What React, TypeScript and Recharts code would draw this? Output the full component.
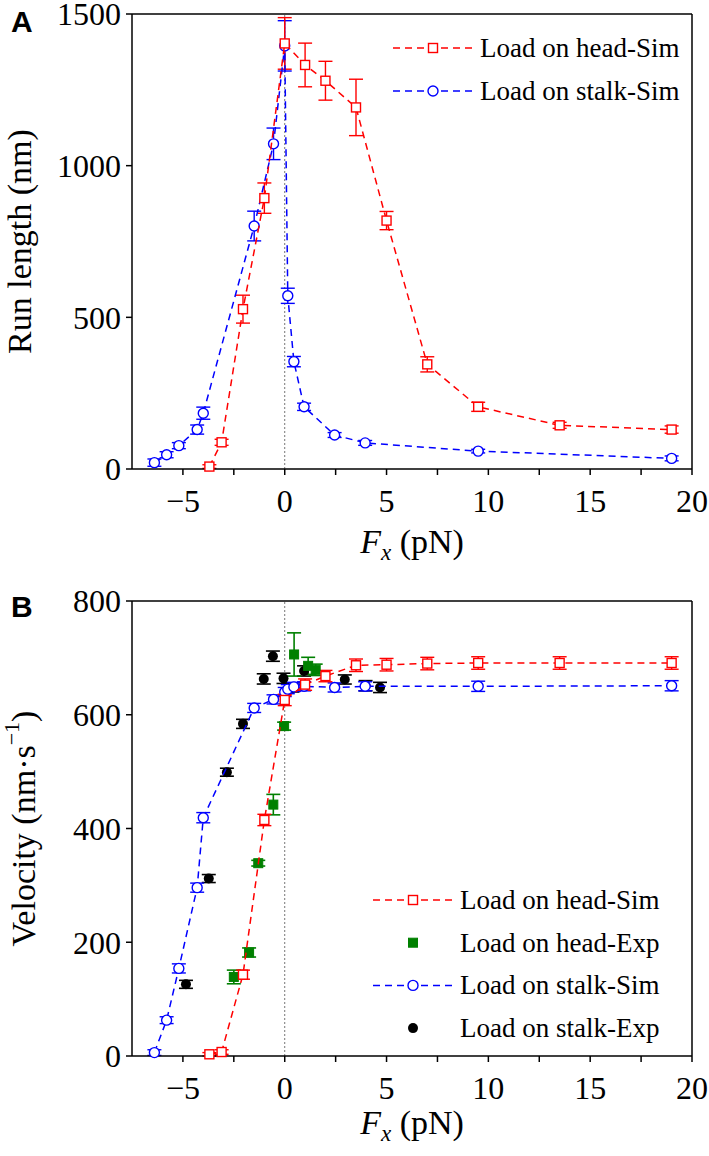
import React from "react";
import { ScatterChart, Scatter, XAxis, YAxis, ReferenceLine, ErrorBar, Legend } from "recharts";

const SERIF = '"Liberation Serif", "Times New Roman", Times, serif';
const SANS = '"Liberation Sans", Arial, sans-serif';
const RED = "#ff0000";
const BLUE = "#0000ff";
const GREEN = "#008000";
const BLACK = "#000000";

// x positions (pN), shared by both panels for the simulations
const headSimFx = [-3.7, -3.1, -2.05, -1.0, 0, 1, 2, 3.5, 5, 7, 9.5, 13.5, 19];
const stalkSimFx = [-6.4, -5.8, -5.2, -4.3, -4.0, -1.5, -0.55, 0, 0.15, 0.45, 0.95, 2.45, 3.95, 9.5, 19];

// panel A: run length (nm)
const headSimRun = [8, 88, 527, 893, 1403, 1332, 1280, 1192, 819, 345, 205, 144, 130];
const headSimRunErr = [6, 10, 46, 50, 85, 72, 64, 93, 30, 25, 15, 10, 12];
const stalkSimRun = [21, 47, 77, 130, 184, 801, 1072, 1395, 571, 354, 205, 112, 86, 59, 35];
const stalkSimRunErr = [12, 10, 10, 15, 20, 49, 52, 83, 25, 17, 12, 8, 8, 6, 8];

// panel B: velocity (nm/s)
const headSimVel = [3, 7, 143, 415, 626, 653, 668, 687, 688, 690, 691, 691, 691];
const headSimVelErr = [3, 4, 8, 10, 10, 10, 10, 11, 11, 11, 11, 11, 11];
const stalkSimVel = [6, 63, 154, 296, 419, 612, 627, 640, 645, 649, 650, 648, 650, 650, 651];
const stalkSimVelErr = [5, 6, 8, 8, 9, 8, 8, 8, 8, 8, 8, 8, 8, 9, 9];

const headExpFx = [-2.5, -1.75, -1.3, -0.56, -0.03, 0.46, 1.15, 1.52];
const headExpVel = [139, 182, 339, 442, 580, 706, 686, 679];
const headExpVelErr = [12, 8, 5, 18, 7, 38, 15, 10];

const stalkExpFx = [-4.85, -3.73, -2.84, -2.05, -1.03, -0.58, -0.06, 0.38, 0.95, 2.95, 3.97, 4.68];
const stalkExpVel = [126, 312, 499, 584, 663, 703, 664, 648, 677, 662, 651, 648];
const stalkExpVelErr = [7, 7, 7, 8, 9, 9, 9, 8, 9, 8, 9, 9];

const xTicks = [-5, -2.5, 0, 2.5, 5, 7.5, 10, 12.5, 15, 17.5, 20];
const xMajor = [-5, 0, 5, 10, 15, 20];
const runMajor = [0, 500, 1000, 1500];
const runMinor = [250, 750, 1250];
const velMajor = [0, 200, 400, 600, 800];
const velMinor = [100, 300, 500, 700];

const LEGEND_A = [
  { name: "Load on head-Sim", color: RED, kind: "square", line: true },
  { name: "Load on stalk-Sim", color: BLUE, kind: "circle", line: true },
];
const LEGEND_B = [
  { name: "Load on head-Sim", color: RED, kind: "square", line: true },
  { name: "Load on head-Exp", color: GREEN, kind: "fsquare", line: false },
  { name: "Load on stalk-Sim", color: BLUE, kind: "circle", line: true },
  { name: "Load on stalk-Exp", color: BLACK, kind: "fcircle", line: false },
];

const zip = (xs: number[], ys: number[], es: number[]) => xs.map((x, i) => ({ x, y: ys[i], e: es[i] }));

const minus = (v: number) => (v < 0 ? `\u2212${-v}` : `${v}`);

// tick labels drawn as plain serif text
const XTick = (p: any) => {
  const v = p.payload.value;
  if (!xMajor.includes(v)) return <g />;
  return (
    <text x={p.x} y={p.y} dy="0.71em" textAnchor="middle" fontFamily={SERIF} fontSize={32} fill="#000">
      {minus(v)}
    </text>
  );
};
const YTick = (p: any) => (
  <text x={p.x} y={p.y} dy="0.355em" textAnchor="end" fontFamily={SERIF} fontSize={32} fill="#000">
    {p.payload.value}
  </text>
);

function marker(kind: string, color: string, cx: number, cy: number) {
  if (kind === "square") return <rect x={cx - 4.5} y={cy - 4.5} width={9} height={9} fill="#fff" stroke={color} strokeWidth={1.4} />;
  if (kind === "fsquare") return <rect x={cx - 4.5} y={cy - 4.5} width={9} height={9} fill={color} stroke={color} strokeWidth={1} />;
  if (kind === "circle") return <circle cx={cx} cy={cy} r={5} fill="#fff" stroke={color} strokeWidth={1.4} />;
  return <circle cx={cx} cy={cy} r={5} fill={color} />;
}

const shapeOf = (kind: string, color: string) => (p: any) => marker(kind, color, p.cx, p.cy);
const noShape = () => <g />;

function LegendBox({ items, gap }: { items: typeof LEGEND_B; gap: number }) {
  return (
    <svg width={320} height={items.length * gap + 10}>
      {items.map((it, i) => {
        const y = 22 + i * gap;
        return (
          <g key={it.name}>
            {it.line && <line x1={5} x2={85} y1={y} y2={y} stroke={it.color} strokeWidth={1.5} strokeDasharray="7 5" />}
            {marker(it.kind, it.color, 45, y)}
            <text x={92} y={y} dominantBaseline="central" fontFamily={SERIF} fontSize={27} fill="#000">
              {it.name}
            </text>
          </g>
        );
      })}
    </svg>
  );
}

const fxTitle = (offset: number) => (props: any) => {
  const vb = props.viewBox;
  return (
    <text x={vb.x + vb.width / 2} y={vb.y + offset} textAnchor="middle" fontFamily={SERIF} fontSize={34} fill="#000">
      <tspan fontStyle="italic">F</tspan>
      <tspan fontStyle="italic" fontSize={23} dy={7}>x</tspan>
      <tspan dy={-7}>{"\u00a0(pN)"}</tspan>
    </text>
  );
};

const runTitle = (props: any) => {
  const vb = props.viewBox;
  const cy = vb.y + vb.height / 2;
  return (
    <text x={19} y={cy} transform={`rotate(-90 19 ${cy})`} textAnchor="middle" dominantBaseline="central" fontFamily={SERIF} fontSize={34} fill="#000">
      Run length (nm)
    </text>
  );
};

const velTitle = (props: any) => {
  const vb = props.viewBox;
  const cy = vb.y + vb.height / 2;
  return (
    <text x={23} y={cy} transform={`rotate(-90 23 ${cy})`} textAnchor="middle" dominantBaseline="central" fontFamily={SERIF} fontSize={34} fill="#000">
      <tspan>Velocity (nm·s</tspan>
      <tspan fontSize={22} dy={-12}>{"\u22121"}</tspan>
      <tspan dy={12}>)</tspan>
    </text>
  );
};

function frame(yDomain: number[], yMajor: number[], yMinor: number[], xHeight: number, xTitle: any, yTitle: any) {
  const allY = [...yMajor, ...yMinor].sort((a, b) => a - b);
  return [
    <XAxis key="xb" xAxisId={0} type="number" dataKey="x" domain={[-7.5, 20]} ticks={xTicks} interval={0}
      height={xHeight} tick={XTick} tickSize={6} tickMargin={14}
      stroke="#000" strokeWidth={1.5} label={xTitle} />,
    <XAxis key="xt" xAxisId="top" orientation="top" mirror type="number" domain={[-7.5, 20]} ticks={xTicks}
      interval={0} tick={false} tickSize={6} stroke="#000" strokeWidth={1.5} />,
    <YAxis key="yl" yAxisId={0} type="number" dataKey="y" domain={yDomain} ticks={yMajor} interval={0}
      width={132} tick={YTick} tickSize={6} tickMargin={5} stroke="#000" strokeWidth={1.5} label={yTitle} />,
    <YAxis key="ym" yAxisId="minor" type="number" mirror domain={yDomain} ticks={yMinor} interval={0}
      tick={false} axisLine={false} tickSize={6} stroke="#000" strokeWidth={1.5} />,
    <YAxis key="yr" yAxisId="right" orientation="right" mirror type="number" domain={yDomain} ticks={allY}
      interval={0} tick={false} tickSize={6} stroke="#000" strokeWidth={1.5} />,
    <ReferenceLine key="zero" x={0} stroke="#777" strokeWidth={1} strokeDasharray="2 2" />,
  ];
}

function simSeries(id: string, rows: any[], kind: string, color: string) {
  return [
    <Scatter key={id} data={rows} shape={shapeOf(kind, color)} isAnimationActive={false} legendType="none"
      line={{ stroke: color, strokeWidth: 1.5, strokeDasharray: "7 5" }} lineType="joint" />,
    <Scatter key={id + "-err"} data={rows} shape={noShape} isAnimationActive={false} legendType="none">
      <ErrorBar dataKey="e" direction="y" width={7} stroke={color} strokeWidth={1.4} />
    </Scatter>,
  ];
}

function expSeries(id: string, rows: any[], kind: string, color: string) {
  return (
    <Scatter key={id} data={rows} shape={shapeOf(kind, color)} isAnimationActive={false} legendType="none">
      <ErrorBar dataKey="e" direction="y" width={7} stroke={color} strokeWidth={1.6} />
    </Scatter>
  );
}

const letterStyle = (top: number): React.CSSProperties => ({
  position: "absolute", left: 11, top, fontFamily: SANS, fontWeight: 700, fontSize: 30, lineHeight: 1, color: "#000",
});

export default function App() {
  return (
    <div style={{ position: "absolute", left: 0, top: 0, width: 709, height: 1156, background: "#fff", fontFamily: SERIF }}>
      <div style={{ position: "relative", width: 709, height: 578 }}>
        <ScatterChart width={709} height={578} margin={{ top: 14, right: 17, bottom: 0, left: 0 }}>
          {frame([0, 1500], runMajor, runMinor, 109, fxTitle(84), runTitle)}
          {simSeries("stalkA", zip(stalkSimFx, stalkSimRun, stalkSimRunErr), "circle", BLUE)}
          {simSeries("headA", zip(headSimFx, headSimRun, headSimRunErr), "square", RED)}
          <Legend layout="vertical" align="center" verticalAlign="middle"
            wrapperStyle={{ left: 388, top: 26, width: 320 }}
            content={() => <LegendBox items={LEGEND_A} gap={43} />} />
        </ScatterChart>
        <div style={letterStyle(7)}>A</div>
      </div>
      <div style={{ position: "relative", width: 709, height: 578 }}>
        <ScatterChart width={709} height={578} margin={{ top: 23, right: 17, bottom: 0, left: 0 }}>
          {frame([0, 800], velMajor, velMinor, 100, fxTitle(78), velTitle)}
          {expSeries("stalkExp", zip(stalkExpFx, stalkExpVel, stalkExpVelErr), "fcircle", BLACK)}
          {expSeries("headExp", zip(headExpFx, headExpVel, headExpVelErr), "fsquare", GREEN)}
          {simSeries("stalkB", zip(stalkSimFx, stalkSimVel, stalkSimVelErr), "circle", BLUE)}
          {simSeries("headB", zip(headSimFx, headSimVel, headSimVelErr), "square", RED)}
          <Legend layout="vertical" align="center" verticalAlign="middle"
            wrapperStyle={{ left: 368, top: 300, width: 320 }}
            content={() => <LegendBox items={LEGEND_B} gap={42.7} />} />
        </ScatterChart>
        <div style={letterStyle(14)}>B</div>
      </div>
    </div>
  );
}
